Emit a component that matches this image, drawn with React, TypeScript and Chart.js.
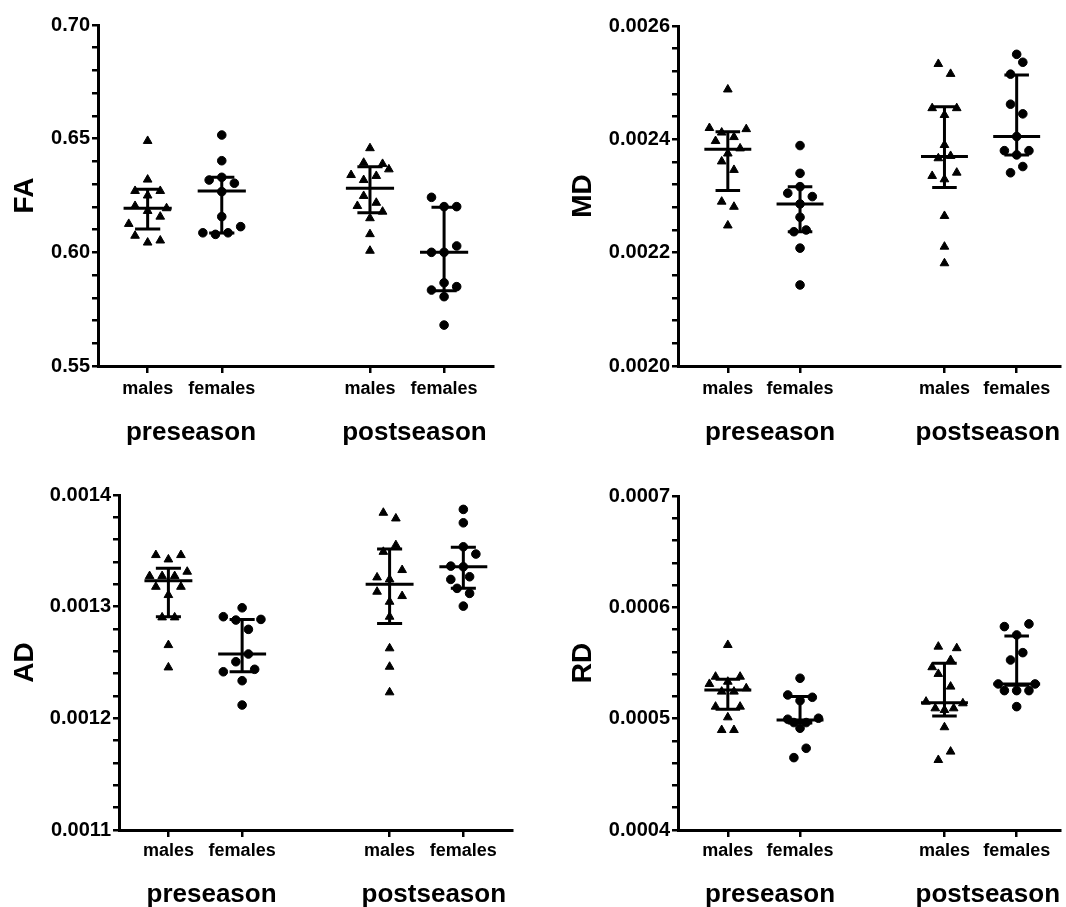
import React, { useEffect, useRef } from 'react';
import { Chart, registerables } from 'chart.js';

Chart.register(...registerables);

const FONT = "'Liberation Sans', Arial, sans-serif";

// ---------- shared categories ----------
const GROUP_LABELS = ['males', 'females', 'males', 'females'];
const GROUP_X = [1, 2, 4, 5];
const GROUP_MALE = [true, false, true, false];
const SEASON_LABELS = ['preseason', 'postseason'];
const SEASON_X = [1.585, 4.6];

// ---------- FA ----------
const FA_TICKS = [0.55, 0.6, 0.65, 0.7];
const FA_PRE_M = [0.649, 0.632, 0.627, 0.627, 0.625, 0.6204, 0.6194, 0.6182, 0.6157, 0.6125, 0.6073, 0.6052, 0.6043];
const FA_PRE_M_SLOT = [0, 0, -2, 2, 0, -2, 3, 0, 2, -3, -2, 2, 0];
const FA_PRE_F = [0.6516, 0.6403, 0.6318, 0.633, 0.6304, 0.6267, 0.6157, 0.6086, 0.6079, 0.6086, 0.6113];
const FA_PRE_F_SLOT = [0, 0, -2, 0, 2, 0, 0, -3, -1, 1, 3];
const FA_POST_M = [0.6458, 0.6394, 0.6389, 0.6365, 0.634, 0.6336, 0.6318, 0.6248, 0.6218, 0.6204, 0.6179, 0.615, 0.608, 0.6007];
const FA_POST_M_SLOT = [0, -1, 2, 3, -3, 1, -1, -1, 1, -2, 2, 0, 0, 0];
const FA_POST_F = [0.6242, 0.6201, 0.6201, 0.6028, 0.6, 0.6, 0.5866, 0.5849, 0.5834, 0.5805, 0.568];
const FA_POST_F_SLOT = [-2, 0, 2, 2, -2, 0, 0, 2, -2, 0, 0];
const FA_MEDIAN = [0.6194, 0.627, 0.6282, 0.6];
const FA_Q1 = [0.6103, 0.6085, 0.6174, 0.5831];
const FA_Q3 = [0.6277, 0.633, 0.6377, 0.6198];

// ---------- MD ----------
const MD_TICKS = [0.002, 0.0022, 0.0024, 0.0026];
const MD_PRE_M = [0.002488, 0.00242, 0.002418, 0.002412, 0.002404, 0.002397, 0.002384, 0.002375, 0.002361, 0.002346, 0.00229, 0.002281, 0.002248];
const MD_PRE_M_SLOT = [0, -3, 3, -1, 1, -2, 2, 0, -1, 1, -1, 1, 0];
const MD_PRE_F = [0.002389, 0.00234, 0.0023165, 0.002305, 0.002299, 0.002286, 0.0022625, 0.002237, 0.00224, 0.002208, 0.002143];
const MD_PRE_F_SLOT = [0, 0, 0, -2, 2, 0, 0, -1, 1, 0, 0];
const MD_POST_M = [0.002533, 0.0025155, 0.002455, 0.002455, 0.002443, 0.00239, 0.0023666, 0.0023707, 0.0023354, 0.0023412, 0.0023295, 0.0022648, 0.0022106, 0.0021813];
const MD_POST_M_SLOT = [-1, 1, -2, 2, 0, 0, -1, 1, -2, 2, 0, 0, 0, 0];
const MD_POST_F = [0.00255, 0.002536, 0.002515, 0.002462, 0.002445, 0.002405, 0.00238, 0.00238, 0.0023725, 0.002352, 0.002341];
const MD_POST_F_SLOT = [0, 1, -1, -1, 1, 0, -2, 2, 0, 1, -1];
const MD_MEDIAN = [0.0023824, 0.002286, 0.0023695, 0.0024048];
const MD_Q1 = [0.0023095, 0.002237, 0.0023148, 0.0023725];
const MD_Q3 = [0.0024136, 0.0023165, 0.0024577, 0.0025137];

// ---------- AD ----------
const AD_TICKS = [0.0011, 0.0012, 0.0013, 0.0014];
const AD_PRE_M = [0.0013462, 0.0013462, 0.0013423, 0.0013274, 0.0013274, 0.0013274, 0.0013313, 0.0013178, 0.0013178, 0.0013104, 0.0012904, 0.0012904, 0.0012656, 0.0012456];
const AD_PRE_M_SLOT = [-2, 2, 0, -3, -1, 1, 3, -2, 2, 0, -1, 1, 0, 0];
const AD_PRE_F = [0.001299, 0.001291, 0.0012886, 0.001288, 0.0012797, 0.0012576, 0.0012507, 0.0012417, 0.0012439, 0.0012337, 0.0012119];
const AD_PRE_F_SLOT = [0, -3, 3, -1, 1, 1, -1, -3, 2, 0, 0];
const AD_POST_M = [0.0013841, 0.001379, 0.0013551, 0.0013491, 0.0013328, 0.0013262, 0.0013244, 0.0013134, 0.0013095, 0.0013044, 0.001291, 0.0012627, 0.0012462, 0.0012233];
const AD_POST_M_SLOT = [-1, 1, 1, -1, 2, -2, 0, -2, 2, 0, 0, 0, 0, 0];
const AD_POST_F = [0.0013871, 0.0013751, 0.0013536, 0.0013471, 0.0013363, 0.0013357, 0.0013244, 0.0013268, 0.0013164, 0.0013119, 0.0013005];
const AD_POST_F_SLOT = [0, 0, 0, 2, -2, 0, -2, 1, -1, 1, 0];
const AD_MEDIAN = [0.0013232, 0.0012576, 0.00132, 0.0013357];
const AD_Q1 = [0.001291, 0.0012417, 0.001285, 0.0013164];
const AD_Q3 = [0.0013343, 0.0012886, 0.0013516, 0.0013531];

// ---------- RD ----------
const RD_TICKS = [0.0004, 0.0005, 0.0006, 0.0007];
const RD_PRE_M = [0.0005662, 0.0005377, 0.0005377, 0.0005312, 0.0005332, 0.0005273, 0.0005243, 0.0005243, 0.0005108, 0.0005108, 0.0005012, 0.0004898, 0.0004898];
const RD_PRE_M_SLOT = [0, -2, 2, -3, 0, 3, -1, 1, -2, 2, 0, -1, 1];
const RD_PRE_F = [0.0005363, 0.0005213, 0.0005192, 0.0005162, 0.0005004, 0.0004995, 0.0004965, 0.0004965, 0.0004914, 0.0004734, 0.000465];
const RD_PRE_F_SLOT = [0, -2, 2, 0, 3, -2, -1, 1, 0, 1, -1];
const RD_POST_M = [0.0005647, 0.0005633, 0.0005527, 0.0005462, 0.0005402, 0.0005288, 0.0005153, 0.0005138, 0.0005093, 0.0005078, 0.0005093, 0.0004923, 0.0004704, 0.0004629];
const RD_POST_M_SLOT = [-1, 2, 1, -2, -1, 1, -3, 3, -1.5, 0, 1.5, 0, 1, -1];
const RD_POST_F = [0.0005827, 0.0005851, 0.0005752, 0.0005593, 0.0005527, 0.0005312, 0.0005312, 0.0005252, 0.0005252, 0.0005252, 0.0005108];
const RD_POST_F_SLOT = [-2, 2, 0, 1, -1, -3, 3, -2, 0, 2, 0];
const RD_MEDIAN = [0.0005258, 0.0004988, 0.0005144, 0.0005312];
const RD_Q1 = [0.0005084, 0.000496, 0.0005024, 0.00053];
const RD_Q3 = [0.0005354, 0.0005198, 0.0005498, 0.0005743];

// ---------- styling constants ----------
const SLOT = 0.085;
const MED_HW = 0.325;
const CAP_HW = 0.17;
const MINOR_DIV = 5;

type PanelSpec = {
  title: string;
  ticks: number[];
  decimals: number;
  groups: number[][];
  slots: number[][];
  median: number[];
  q1: number[];
  q3: number[];
  left: number; top: number; w: number; h: number;
  yWidth: number; padTop: number; padRight: number; xHeight: number;
  xMin: number; xMax: number; titlePad: number; tickPad: number; seasonOffset: number;
};

const PANELS: PanelSpec[] = [
  {
    title: 'FA', ticks: FA_TICKS, decimals: 2,
    groups: [FA_PRE_M, FA_PRE_F, FA_POST_M, FA_POST_F],
    slots: [FA_PRE_M_SLOT, FA_PRE_F_SLOT, FA_POST_M_SLOT, FA_POST_F_SLOT],
    median: FA_MEDIAN, q1: FA_Q1, q3: FA_Q3,
    left: 0, top: 0, w: 533, h: 453, yWidth: 98, padTop: 25, padRight: 40, xHeight: 87,
    xMin: 0.33, xMax: 5.66, titlePad: 11, tickPad: 5, seasonOffset: 74,
  },
  {
    title: 'MD', ticks: MD_TICKS, decimals: 4,
    groups: [MD_PRE_M, MD_PRE_F, MD_POST_M, MD_POST_F],
    slots: [MD_PRE_M_SLOT, MD_PRE_F_SLOT, MD_POST_M_SLOT, MD_POST_F_SLOT],
    median: MD_MEDIAN, q1: MD_Q1, q3: MD_Q3,
    left: 533, top: 0, w: 533, h: 453, yWidth: 145, padTop: 26, padRight: 0, xHeight: 87,
    xMin: 0.31, xMax: 5.6, titlePad: 36, tickPad: 5, seasonOffset: 74,
  },
  {
    title: 'AD', ticks: AD_TICKS, decimals: 4,
    groups: [AD_PRE_M, AD_PRE_F, AD_POST_M, AD_POST_F],
    slots: [AD_PRE_M_SLOT, AD_PRE_F_SLOT, AD_POST_M_SLOT, AD_POST_F_SLOT],
    median: AD_MEDIAN, q1: AD_Q1, q3: AD_Q3,
    left: 0, top: 453, w: 533, h: 454, yWidth: 119, padTop: 42, padRight: 21, xHeight: 77,
    xMin: 0.33, xMax: 5.66, titlePad: 11, tickPad: 3, seasonOffset: 72,
  },
  {
    title: 'RD', ticks: RD_TICKS, decimals: 4,
    groups: [RD_PRE_M, RD_PRE_F, RD_POST_M, RD_POST_F],
    slots: [RD_PRE_M_SLOT, RD_PRE_F_SLOT, RD_POST_M_SLOT, RD_POST_F_SLOT],
    median: RD_MEDIAN, q1: RD_Q1, q3: RD_Q3,
    left: 533, top: 453, w: 533, h: 454, yWidth: 145, padTop: 43, padRight: 0, xHeight: 77,
    xMin: 0.31, xMax: 5.6, titlePad: 36, tickPad: 3, seasonOffset: 72,
  },
];

function buildYTicks(majors: number[]) {
  const out: { value: number; isMajor: boolean }[] = [];
  for (let i = 0; i < majors.length - 1; i++) {
    const a = majors[i];
    const b = majors[i + 1];
    for (let k = 0; k < MINOR_DIV; k++) {
      out.push({ value: a + ((b - a) * k) / MINOR_DIV, isMajor: k === 0 });
    }
  }
  out.push({ value: majors[majors.length - 1], isMajor: true });
  return out;
}

function buildConfig(p: PanelSpec): any {
  const datasets: any[] = [];
  p.groups.forEach((vals, gi) => {
    const male = GROUP_MALE[gi];
    datasets.push({
      type: 'scatter',
      label: GROUP_LABELS[gi],
      data: vals.map((v, k) => ({ x: GROUP_X[gi] + p.slots[gi][k] * SLOT, y: v })),
      pointStyle: male ? 'triangle' : 'circle',
      pointRadius: male ? 5 : 4.3,
      pointBorderWidth: 1,
      backgroundColor: '#000',
      borderColor: '#000',
      showLine: false,
    });
  });
  const bars: any[] = [];
  GROUP_X.forEach((c, gi) => {
    const med = p.median[gi];
    const lo = p.q1[gi];
    const hi = p.q3[gi];
    bars.push(
      { x: c - MED_HW, y: med }, { x: c + MED_HW, y: med }, { x: c, y: null },
      { x: c, y: lo }, { x: c, y: hi }, { x: c, y: null },
      { x: c - CAP_HW, y: hi }, { x: c + CAP_HW, y: hi }, { x: c, y: null },
      { x: c - CAP_HW, y: lo }, { x: c + CAP_HW, y: lo }, { x: c, y: null },
    );
  });
  datasets.push({
    type: 'scatter',
    label: 'median-iqr',
    data: bars,
    showLine: true,
    spanGaps: false,
    borderColor: '#000',
    borderWidth: 3,
    pointRadius: 0,
    fill: false,
  });

  const yTicks = buildYTicks(p.ticks);

  const seasonPlugin = {
    id: 'seasonLabels' + p.title,
    afterDraw(chart: any) {
      const ctx = chart.ctx;
      const xs = chart.scales.x;
      ctx.save();
      ctx.fillStyle = '#000';
      ctx.font = `bold 26px ${FONT}`;
      ctx.textAlign = 'center';
      ctx.textBaseline = 'alphabetic';
      SEASON_LABELS.forEach((t, i) => {
        ctx.fillText(t, xs.getPixelForValue(SEASON_X[i]), chart.chartArea.bottom + p.seasonOffset);
      });
      ctx.restore();
    },
  };

  return {
    type: 'scatter',
    data: { datasets },
    plugins: [seasonPlugin],
    options: {
      animation: false,
      responsive: false,
      maintainAspectRatio: false,
      events: [],
      layout: { padding: { left: 0, right: p.padRight, top: p.padTop, bottom: 0 } },
      plugins: { legend: { display: false }, tooltip: { enabled: false }, title: { display: false } },
      scales: {
        x: {
          type: 'linear',
          min: p.xMin,
          max: p.xMax,
          afterBuildTicks: (scale: any) => {
            scale.ticks = GROUP_X.map((v) => ({ value: v }));
          },
          afterFit: (scale: any) => {
            scale.height = p.xHeight;
          },
          ticks: {
            autoSkip: false,
            maxRotation: 0,
            minRotation: 0,
            padding: p.tickPad,
            color: '#000',
            font: { family: FONT, size: 18, weight: 'bold' },
            callback: (_v: any, i: number) => GROUP_LABELS[i],
          },
          grid: {
            drawOnChartArea: false,
            drawTicks: true,
            tickLength: 7,
            color: '#000',
            lineWidth: 2.5,
          },
          border: { display: true, color: '#000', width: 3 },
        },
        y: {
          type: 'linear',
          min: p.ticks[0],
          max: p.ticks[p.ticks.length - 1],
          afterBuildTicks: (scale: any) => {
            scale.ticks = yTicks.map((t) => ({ value: t.value, isMajor: t.isMajor }));
          },
          afterFit: (scale: any) => {
            scale.width = p.yWidth;
          },
          ticks: {
            autoSkip: false,
            padding: 2,
            color: '#000',
            font: { family: FONT, size: 20, weight: 'bold' },
            callback: (v: any, i: number, ticks: any[]) =>
              ticks[i] && ticks[i].isMajor ? Number(v).toFixed(p.decimals) : '',
          },
          grid: {
            drawOnChartArea: false,
            drawTicks: true,
            tickLength: 6,
            color: '#000',
            lineWidth: 2.5,
          },
          border: { display: true, color: '#000', width: 3 },
          title: {
            display: true,
            text: p.title,
            color: '#000',
            font: { family: FONT, size: 28, weight: 'bold', lineHeight: 1 },
            padding: { top: p.titlePad, bottom: 0 },
          },
        },
      },
    },
  };
}

function Panel({ spec }: { spec: PanelSpec }) {
  const ref = useRef<HTMLCanvasElement>(null);
  useEffect(() => {
    if (!ref.current) return;
    const chart = new Chart(ref.current, buildConfig(spec));
    return () => chart.destroy();
  }, [spec]);
  return (
    <canvas
      ref={ref}
      width={spec.w}
      height={spec.h}
      style={{ position: 'absolute', left: spec.left, top: spec.top, width: spec.w, height: spec.h }}
    />
  );
}

export default function App() {
  return (
    <div
      style={{
        position: 'absolute',
        left: 0,
        top: 0,
        width: 1066,
        height: 907,
        overflow: 'hidden',
        background: '#fff',
      }}
    >
      {PANELS.map((p) => (
        <Panel key={p.title} spec={p} />
      ))}
    </div>
  );
}
